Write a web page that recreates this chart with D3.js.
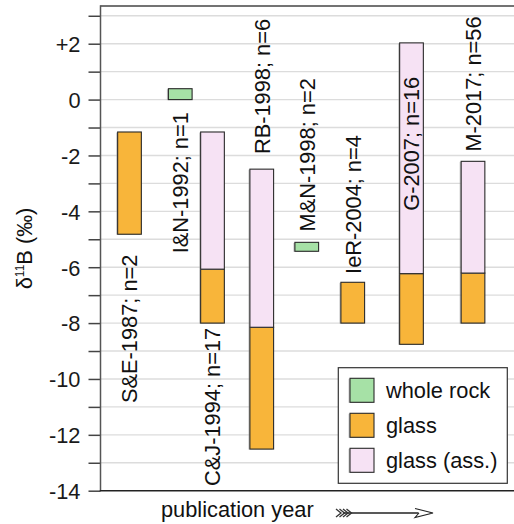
<!DOCTYPE html>
<html>
<head>
<meta charset="utf-8">
<script src="https://cdn.jsdelivr.net/npm/d3@7"></script>
<style>
  html, body { margin: 0; padding: 0; background: #fff; }
  svg { display: block; font-family: "Liberation Sans", Arial, Helvetica, sans-serif; }
</style>
</head>
<body>
<svg id="chart" width="514" height="524"></svg>
<script>
// ---------------- data ----------------
const studies = ["S&E-1987; n=2", "I&N-1992; n=1", "C&J-1994; n=17", "RB-1998; n=6",
                 "M&N-1998; n=2", "IeR-2004; n=4", "G-2007; n=16", "M-2017; n=56"];
// position of each study along the (ordinal, publication-order) x axis
const studyOrder = [1.16, 3.19, 4.48, 6.45, 8.25, 10.09, 12.44, 14.9];
// ranges of δ11B (‰): [min, max]
const wholeRock = [null, [0, 0.39], null, null, [-5.43, -5.11], null, null, null];
const glass     = [[-4.82, -1.16], null, [-8, -6.07], [-12.51, -8.15], null, [-8, -6.54], [-8.76, -6.23], [-8, -6.21]];
const glassAss  = [null, null, [-6.07, -1.16], [-8.15, -2.49], null, null, [-6.23, 2.03], [-6.21, -2.21]];
// label anchor value (‰) and side of the bar
const labelValue = [-5.55, -0.45, -8.17, -1.95, -4.72, -6.24, -3.98, -1.86];
const labelSide  = ["below", "below", "below", "above", "above", "above", "above", "above"];
const yTicks = [2, 0, -2, -4, -6, -8, -10, -12, -14];
const yTickLabels = ["+2", "0", "-2", "-4", "-6", "-8", "-10", "-12", "-14"];
const legendLabels = ["whole rock", "glass", "glass (ass.)"];
const xTitle = "publication year";

(function () {
// ---------------- layout ----------------
const svg = d3.select("#chart");
const pL = 100.5, pR = 516, pT = 6, pB = 490.7;
const colors = { wholeRock: "#a6e1a6", glass: "#f8b53a", glassAss: "#f6e2f4" };
const FS = 21.8;

const x = d3.scaleLinear().domain([0, 16.6]).range([pL, pL + 16.6 * 25]);
const y = d3.scaleLinear().domain([-14, 3.35]).range([pB, pT]);
const barW = 23.7;

// grid lines
const gridVals = d3.range(-13, 4);
svg.append("g").selectAll("line").data(gridVals).join("line")
  .attr("x1", pL).attr("x2", pR)
  .attr("y1", d => y(d)).attr("y2", d => y(d))
  .attr("stroke", "#dcdcdc").attr("stroke-width", 1.4);

// top frame line
svg.append("line").attr("x1", pL).attr("x2", pR).attr("y1", pT).attr("y2", pT)
  .attr("stroke", "#444").attr("stroke-width", 1.5);

// y axis
const yAxis = d3.axisLeft(y).tickValues(d3.range(-14, 4)).tickSize(12)
  .tickFormat(d => { const i = yTicks.indexOf(d); return i >= 0 ? yTickLabels[i] : ""; });
const gy = svg.append("g").attr("transform", `translate(${pL},0)`).call(yAxis);
gy.select(".domain").remove();
gy.selectAll(".tick line").attr("stroke", "#444").attr("stroke-width", 1.5);
gy.selectAll(".tick text").attr("font-size", FS).attr("fill", "#1a1a1a")
  .attr("x", -20).attr("dy", "0.36em").attr("font-family", "Liberation Sans, Arial, sans-serif");
svg.append("line").attr("x1", pL).attr("x2", pL).attr("y1", pT - 0.75).attr("y2", pB)
  .attr("stroke", "#555").attr("stroke-width", 1.5);

// x axis line
svg.append("line").attr("x1", pL - 0.75).attr("x2", pR).attr("y1", pB).attr("y2", pB)
  .attr("stroke", "#222").attr("stroke-width", 1.5);

// bars
function drawRanges(arr, color) {
  const rows = arr.map((r, i) => r ? { i, lo: r[0], hi: r[1] } : null).filter(Boolean);
  const g = svg.append("g");
  g.selectAll("rect.shadow").data(rows).join("rect").attr("class", "shadow")
    .attr("x", d => x(studyOrder[d.i]) - barW / 2 - 1.5)
    .attr("y", d => y(d.hi) + 0.5)
    .attr("width", barW).attr("height", d => y(d.lo) - y(d.hi))
    .attr("fill", "#999").attr("opacity", 0.55);
  g.selectAll("rect.bar").data(rows).join("rect").attr("class", "bar")
    .attr("x", d => x(studyOrder[d.i]) - barW / 2)
    .attr("y", d => y(d.hi))
    .attr("width", barW).attr("height", d => y(d.lo) - y(d.hi))
    .attr("fill", color).attr("stroke", "#2a2a2a").attr("stroke-width", 1.1);
}
drawRanges(glass, colors.glass);
drawRanges(glassAss, colors.glassAss);
drawRanges(wholeRock, colors.wholeRock);

// study labels (rotated)
svg.append("g").selectAll("text").data(studies).join("text")
  .attr("transform", (d, i) => `translate(${x(studyOrder[i])},${y(labelValue[i])}) rotate(-90)`)
  .attr("text-anchor", (d, i) => labelSide[i] === "below" ? "end" : "start")
  .attr("dy", "0.36em")
  .attr("font-size", FS).attr("fill", "#111")
  .text(d => d);

// y title
const yt = svg.append("text")
  .attr("transform", `translate(32,${(205 + 292) / 2}) rotate(-90)`)
  .attr("text-anchor", "middle").attr("font-size", FS).attr("fill", "#111");
yt.append("tspan").text("δ");
yt.append("tspan").attr("font-size", 12).attr("dy", -8).text("11");
yt.append("tspan").attr("dy", 8).text("B (‰)");

// x title
svg.append("text").attr("x", 161).attr("y", 517).attr("font-size", FS).attr("fill", "#111").text(xTitle);

// arrow with fletching
const ay = 513;
const arrow = svg.append("g").attr("stroke", "#222").attr("fill", "none");
arrow.append("line").attr("x1", 343).attr("x2", 431).attr("y1", ay).attr("y2", ay).attr("stroke-width", 1.6);
arrow.append("path").attr("d", `M415,${ay - 4.5} L433,${ay} L415,${ay + 4.5} L419,${ay}`)
  .attr("fill", "#fff").attr("stroke-width", 1.1);
for (let k = 0; k < 4; k++) {
  const fx = 336 + k * 3.5;
  arrow.append("path").attr("d", `M${fx},${ay - 4} L${fx + 5},${ay} L${fx},${ay + 4}`)
    .attr("stroke", "#333").attr("stroke-width", 1.3);
}

// legend
const lg = svg.append("g");
lg.append("rect").attr("x", 338.3).attr("y", 367.7).attr("width", 169).attr("height", 115.6)
  .attr("fill", "#fff").attr("stroke", "#333").attr("stroke-width", 1.2);
const legendColors = [colors.wholeRock, colors.glass, colors.glassAss];
legendLabels.forEach((lab, i) => {
  const ry = 378.3 + i * 35;
  lg.append("rect").attr("x", 348.5).attr("y", ry + 0.5).attr("width", 24).attr("height", 24)
    .attr("fill", "#999").attr("opacity", 0.55);
  lg.append("rect").attr("x", 350).attr("y", ry).attr("width", 24).attr("height", 24)
    .attr("fill", legendColors[i]).attr("stroke", "#2a2a2a").attr("stroke-width", 1.1);
  lg.append("text").attr("x", 386).attr("y", ry + 12).attr("dy", "0.36em")
    .attr("font-size", FS).attr("fill", "#111").text(lab);
});
})();
</script>
</body>
</html>
